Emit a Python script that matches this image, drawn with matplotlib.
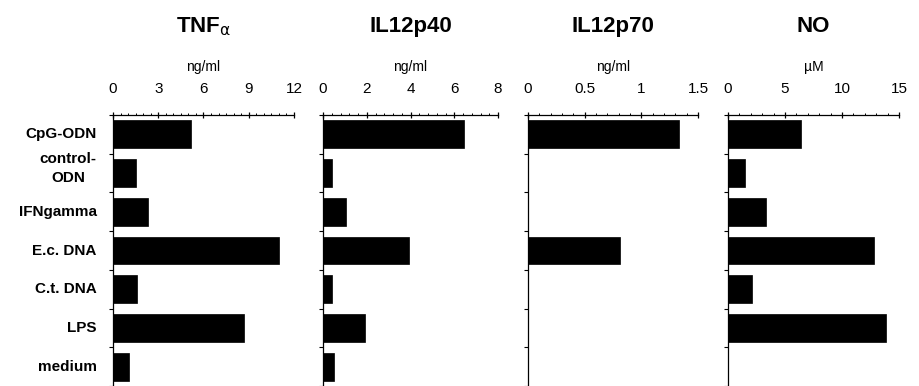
"""
Cytokine and NO production by macrophages after stimulation.

Draws four side by side horizontal bar panels sharing the stimulus labels.
"""


import matplotlib
matplotlib.use("Agg")
import matplotlib.pyplot as plt     # figure, savefig
from matplotlib.ticker import MultipleLocator


stimuli = ["CpG-ODN", "control-\nODN", "IFNgamma", "E.c. DNA", "C.t. DNA", "LPS", "medium"]

tnf_alpha = [5.2, 1.5, 2.3, 11.0, 1.6, 8.7, 1.05]
il12_p40 = [6.45, 0.4, 1.05, 3.95, 0.4, 1.9, 0.5]
il12_p70 = [1.33, 0.0, 0.0, 0.81, 0.0, 0.0, 0.0]
nitric_oxide = [6.4, 1.45, 3.35, 12.8, 2.1, 13.85, 0.0]

titles = [r"TNF$_{\alpha}$", "IL12p40", "IL12p70", "NO"]
units = ["ng/ml", "ng/ml", "ng/ml", "\u00b5M"]
x_max = [12, 8, 1.5, 15]
major_steps = [3, 2, 0.5, 5]
minor_steps = [0.5, 0.4, 0.1, 1]
tick_labels = [["0", "3", "6", "9", "12"],
               ["0", "2", "4", "6", "8"],
               ["0", "0.5", "1", "1.5"],
               ["0", "5", "10", "15"]]


def draw_panel(ax, values, title, unit, xmax, major, minor, labels):
    """
    Draws one horizontal bar panel with its axis on top.
    :param ax: The axes to draw into
    :param values: Bar lengths, one per stimulus
    :param title: Panel title
    :param unit: Unit shown above the tick labels
    :param xmax: Upper limit of the value axis
    :param major: Major tick step
    :param minor: Minor tick step
    :param labels: Major tick labels
    :return: Nothing
    """
    positions = list(range(len(values)))
    ax.barh(positions, values, height=0.72, color="black", edgecolor="black", linewidth=0.5)
    ax.set_xlim(0, xmax)
    ax.set_ylim(len(values) - 0.5, -0.5)

    ax.spines["right"].set_visible(False)
    ax.spines["bottom"].set_visible(False)
    ax.spines["top"].set_linewidth(0.9)
    ax.spines["left"].set_linewidth(0.9)

    ax.xaxis.tick_top()
    ax.xaxis.set_label_position("top")
    ticks = [i * major for i in range(len(labels))]
    ax.set_xticks(ticks)
    ax.set_xticklabels(labels, fontsize=11)
    ax.xaxis.set_minor_locator(MultipleLocator(minor))
    ax.tick_params(axis="x", which="major", direction="inout", length=5, width=0.9, pad=11)
    ax.tick_params(axis="x", which="minor", direction="out", length=1.8, width=0.7)

    ax.set_yticks([p - 0.5 for p in positions] + [len(values) - 0.5])
    ax.set_yticklabels([])
    ax.tick_params(axis="y", direction="out", length=3, width=0.8)

    ax.set_xlabel(unit, fontsize=10, labelpad=8)
    ax.set_title(title, fontsize=16, fontweight="bold", pad=20)


def main():
    """
    Builds the four panels and saves the figure.
    :return: Nothing
    """
    plt.rcParams["font.family"] = ["Liberation Sans", "DejaVu Sans"]
    plt.rcParams["mathtext.fontset"] = "custom"
    plt.rcParams["mathtext.rm"] = "Liberation Sans:bold"
    plt.rcParams["mathtext.it"] = "DejaVu Sans"

    fig = plt.figure(figsize=(9.2, 3.86), dpi=100)
    lefts = [113, 323, 528, 728]
    rights = [294, 498, 698, 899]
    top = 115
    series = [tnf_alpha, il12_p40, il12_p70, nitric_oxide]

    axes = []
    for i in range(4):
        ax = fig.add_axes([lefts[i] / 920, 0, (rights[i] - lefts[i]) / 920, 1 - top / 386])
        draw_panel(ax, series[i], titles[i], units[i], x_max[i],
                   major_steps[i], minor_steps[i], tick_labels[i])
        axes.append(ax)

    first = axes[0]
    for i, name in enumerate(stimuli):
        y = i - 0.12 if "\n" in name else i
        first.text(-0.09, y, name, transform=first.get_yaxis_transform(),
                   ha="right", va="center", fontsize=11, fontweight="bold",
                   multialignment="center", linespacing=1.5)

    fig.savefig("out.png", dpi=100)


if __name__ == '__main__':
    main()
